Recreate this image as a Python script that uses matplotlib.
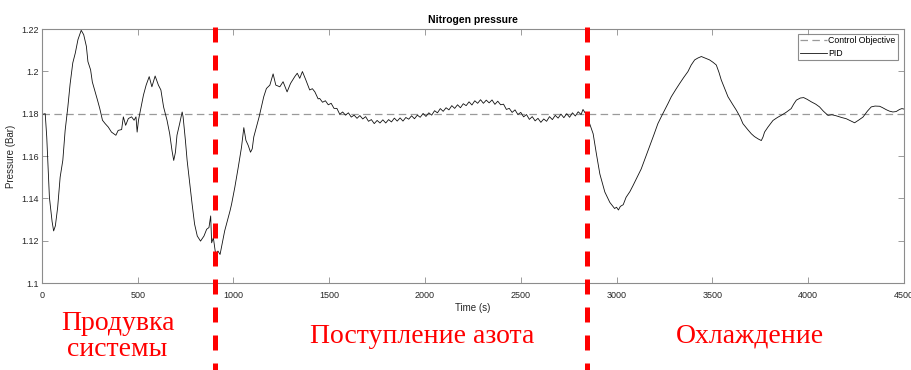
import matplotlib
matplotlib.use("Agg")
import matplotlib.pyplot as plt
from matplotlib.ticker import FormatStrFormatter

# === Данные ===
setpoint = 1.18
stage_bounds = [905, 2845]
stage_names = ["Продувка\nсистемы", "Поступление азота", "Охлаждение"]

time_s = [
    0, 17, 25, 39, 53, 61, 70, 82, 95, 109, 121, 135, 147, 161, 174, 188, 205,
    218, 232, 240, 254, 263, 275, 290, 302, 316, 330, 346, 363, 386, 398, 416,
    425, 437, 451, 468, 481, 491, 497, 504, 516, 530, 544, 560, 574, 591, 608,
    621, 635, 653, 667, 679, 688, 697, 705, 719, 732, 737, 749, 758, 772, 784,
    797, 811, 828, 846, 860, 872, 881, 886, 895, 907, 919, 930, 942, 954, 968,
    982, 990, 1007, 1025, 1042, 1054, 1065, 1077, 1089, 1098, 1106, 1120, 1134,
    1146, 1158, 1172, 1190, 1207, 1221, 1242, 1259, 1280, 1298, 1320, 1333,
    1346, 1360, 1378, 1398, 1412, 1425, 1442,
    1450, 1465, 1480, 1495, 1510, 1525, 1540, 1555, 1570, 1585, 1600, 1615,
    1630, 1645, 1660, 1675, 1690, 1705, 1720, 1735, 1750, 1765, 1780, 1795,
    1810, 1825, 1840, 1855, 1870, 1885, 1900, 1915, 1930, 1945, 1960, 1975,
    1990, 2005, 2020, 2035, 2050, 2065, 2080, 2095, 2110, 2125, 2140, 2155,
    2170, 2185, 2200, 2215, 2230, 2245, 2260, 2275, 2290, 2305, 2320, 2335,
    2350, 2365, 2380, 2395, 2410, 2425, 2440, 2455, 2470, 2485, 2500, 2515,
    2530, 2545, 2560, 2575, 2590, 2605, 2620, 2635, 2650, 2665, 2680, 2695,
    2710, 2725, 2740, 2755, 2770, 2785, 2800, 2815, 2825, 2835, 2845,
    2860, 2878, 2895, 2913, 2939, 2965, 2990, 3000, 3010, 3020, 3035, 3050,
    3070, 3086, 3105, 3129, 3150, 3172, 3195, 3216, 3235, 3251, 3270, 3286,
    3310, 3330, 3350, 3373, 3390, 3408, 3425, 3443, 3465, 3486, 3505, 3521,
    3535, 3547, 3565, 3582, 3605, 3626, 3645, 3660, 3685, 3704, 3720, 3739,
    3756, 3765, 3773, 3791, 3817, 3840, 3860, 3885, 3912, 3925, 3939, 3960,
    3977, 3995, 4017, 4040, 4060, 4080, 4104, 4125, 4147, 4175, 4200, 4225,
    4243, 4265, 4287, 4310, 4330, 4350, 4374, 4390, 4408, 4425, 4443, 4460,
    4478, 4490, 4500,
]

pressure = [
    1.1796, 1.1800, 1.1690, 1.1404, 1.1290, 1.1246, 1.1270, 1.1357, 1.1500,
    1.1580, 1.1720, 1.1830, 1.1940, 1.2040, 1.2086, 1.2150, 1.2194, 1.2173,
    1.2118, 1.2046, 1.2007, 1.1950, 1.1912, 1.1864, 1.1824, 1.1769, 1.1753,
    1.1737, 1.1713, 1.1698, 1.1721, 1.1725, 1.1785, 1.1745, 1.1777, 1.1785,
    1.1769, 1.1785, 1.1713, 1.1769, 1.1824, 1.1888, 1.1935, 1.1975, 1.1927,
    1.1978, 1.1935, 1.1912, 1.1832, 1.1769, 1.1705, 1.1626, 1.1579, 1.1618,
    1.1698, 1.1753, 1.1808, 1.1785, 1.1674, 1.1579, 1.1468, 1.1373, 1.1278,
    1.1222, 1.1198, 1.1222, 1.1254, 1.1262, 1.1317, 1.1190, 1.1214, 1.1135,
    1.1151, 1.1135, 1.1190, 1.1246, 1.1293, 1.1341, 1.1372, 1.1452, 1.1547,
    1.1642, 1.1734, 1.1674, 1.1650, 1.1618, 1.1634, 1.1690, 1.1737, 1.1785,
    1.1832, 1.1880, 1.1919, 1.1935, 1.1988, 1.1935, 1.1927, 1.1951, 1.1903,
    1.1943, 1.1975, 1.1991, 1.1967, 1.1999, 1.1959, 1.1912, 1.1918, 1.1903,
    1.1870,
    1.1872, 1.1854, 1.1861, 1.1842, 1.1849, 1.1825, 1.1825, 1.1797, 1.1808,
    1.1793, 1.1804, 1.1784, 1.1793, 1.1778, 1.1791, 1.1775, 1.1786, 1.1764,
    1.1772, 1.1753, 1.1768, 1.1756, 1.1771, 1.1756, 1.1772, 1.1761, 1.1779,
    1.1765, 1.1780, 1.1765, 1.1782, 1.1774, 1.1790, 1.1776, 1.1793, 1.1783,
    1.1801, 1.1787, 1.1804, 1.1793, 1.1814, 1.1804, 1.1824, 1.1811, 1.1828,
    1.1818, 1.1838, 1.1825, 1.1842, 1.1828, 1.1847, 1.1838, 1.1856, 1.1841,
    1.1861, 1.1849, 1.1866, 1.1849, 1.1864, 1.1851, 1.1865, 1.1844, 1.1859,
    1.1842, 1.1845, 1.1820, 1.1825, 1.1806, 1.1818, 1.1796, 1.1806, 1.1785,
    1.1796, 1.1773, 1.1786, 1.1766, 1.1778, 1.1759, 1.1775, 1.1764, 1.1786,
    1.1772, 1.1792, 1.1779, 1.1798, 1.1781, 1.1800, 1.1783, 1.1804, 1.1789,
    1.1809, 1.1796, 1.1820, 1.1805, 1.1795,
    1.1752, 1.1705, 1.1610, 1.1515, 1.1430, 1.1381, 1.1352, 1.1358, 1.1345,
    1.1362, 1.1370, 1.1405, 1.1432, 1.1460, 1.1495, 1.1539, 1.1590, 1.1642,
    1.1700, 1.1753, 1.1788, 1.1816, 1.1850, 1.1880, 1.1915, 1.1943, 1.1970,
    1.1999, 1.2030, 1.2054, 1.2063, 1.2070, 1.2062, 1.2054, 1.2042, 1.2030,
    1.1995, 1.1959, 1.1918, 1.1880, 1.1846, 1.1816, 1.1785, 1.1753, 1.1725,
    1.1705, 1.1692, 1.1681, 1.1673, 1.1690, 1.1713, 1.1737, 1.1768, 1.1782,
    1.1792, 1.1806, 1.1824, 1.1845, 1.1864, 1.1874, 1.1876, 1.1868, 1.1856,
    1.1845, 1.1832, 1.1812, 1.1792, 1.1795, 1.1790, 1.1782, 1.1776, 1.1765,
    1.1757, 1.1770, 1.1784, 1.1812, 1.1832, 1.1836, 1.1835, 1.1828, 1.1819,
    1.1812, 1.1808, 1.1810, 1.1820, 1.1824, 1.1822,
]

# === Оформление ===
narrow = ["Liberation Sans Narrow", "Liberation Sans", "DejaVu Sans"]
plt.rcParams["font.family"] = ["Liberation Sans", "DejaVu Sans"]

fig = plt.figure(figsize=(9.12, 3.70), dpi=100)
ax = fig.add_axes([0.046, 0.2351, 0.945, 0.6865])

ax.plot([0, 4500], [setpoint, setpoint], color="#9a9a9a", lw=0.9,
        linestyle=(0, (6, 3.5)), label="Control Objective")
ax.plot(time_s, pressure, color="#111111", lw=0.6, label="PID")

ax.set_xlim(0, 4500)
ax.set_ylim(1.1, 1.22)
ax.set_xticks(range(0, 4501, 500))
ax.set_yticks([1.1, 1.12, 1.14, 1.16, 1.18, 1.2, 1.22])
ax.yaxis.set_major_formatter(FormatStrFormatter("%g"))

for side in ax.spines.values():
    side.set_color("#8c8c8c")
    side.set_linewidth(0.8)
ax.tick_params(direction="in", length=4, width=0.6, color="#8c8c8c",
               labelsize=6.5, labelcolor="#262626", top=True, right=True)
ax.tick_params(axis="x", pad=6)
ax.tick_params(axis="y", pad=2)

ax.set_title("Nitrogen pressure", fontsize=7.5, fontweight="bold",
             family=narrow, pad=4.5)
ax.set_xlabel("Time (s)", fontsize=7, family=narrow, color="#262626", labelpad=2)
ax.set_ylabel("Pressure (Bar)", fontsize=7, family=narrow, color="#262626",
              labelpad=4)

leg = ax.legend(loc="upper right", bbox_to_anchor=(0.993, 0.980),
                borderaxespad=0, prop={"family": narrow, "size": 6.3},
                frameon=True, fancybox=False, handlelength=3.1,
                handletextpad=0.1, borderpad=0.25, labelspacing=0.4)
leg.get_frame().set_edgecolor("#707070")
leg.get_frame().set_linewidth(0.8)

# границы этапов — красный пунктир до низа картинки
for xb in stage_bounds:
    ax.plot([xb, xb], [1.008, -0.36], transform=ax.get_xaxis_transform(),
            color="#ff0000", lw=3.6, linestyle=(0, (3, 2.6)),
            clip_on=False, zorder=5)

red_font = dict(color="#ff0000", family=["Liberation Serif", "DejaVu Serif"],
                fontsize=20, ha="center", va="baseline")
first, second = stage_names[0].split("\n")
fig.text(0.1288, 0.1080, first, **red_font)
fig.text(0.1288, 0.0380, second, **red_font)
fig.text(0.4627, 0.073, stage_names[1], **red_font)
fig.text(0.8224, 0.073, stage_names[2], **red_font)

fig.savefig("out.png", dpi=100)
